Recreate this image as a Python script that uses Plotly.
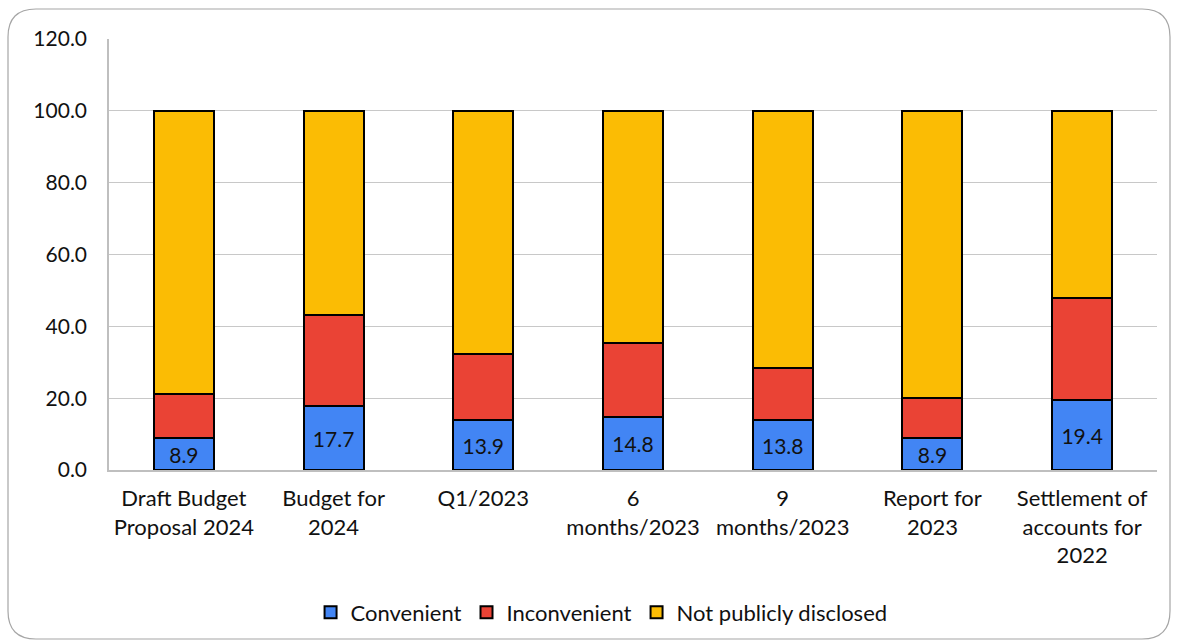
import plotly.graph_objects as go

categories = [
    "Draft Budget<br>Proposal 2024",
    "Budget for<br>2024",
    "Q1/2023",
    "6<br>months/2023",
    "9<br>months/2023",
    "Report for<br>2023",
    "Settlement of<br>accounts for<br>2022",
]
convenient = [8.9, 17.7, 13.9, 14.8, 13.8, 8.9, 19.4]
inconvenient = [12.2, 25.5, 18.5, 20.6, 14.7, 11.2, 28.5]
not_disclosed = [round(100 - c - i, 1) for c, i in zip(convenient, inconvenient)]

FONT = "Lato, 'Open Sans', sans-serif"
W, H = 1179, 644
ML, MR, MT, MB = 109, 22, 39, 174
PW, PH = W - ML - MR, H - MT - MB

fig = go.Figure()
fig.add_bar(
    x=categories, y=convenient, name="Convenient",
    marker=dict(color="#4285f4", line=dict(color="#000000", width=2)),
    text=[f"{v:.1f}" for v in convenient], textposition="inside",
    insidetextanchor="middle", constraintext="none",
    textfont=dict(color="#111111", size=21, family=FONT),
)
fig.add_bar(
    x=categories, y=inconvenient, name="Inconvenient",
    marker=dict(color="#ea4335", line=dict(color="#000000", width=2)),
)
fig.add_bar(
    x=categories, y=not_disclosed, name="Not publicly disclosed",
    marker=dict(color="#fbbc04", line=dict(color="#000000", width=2)),
)

# rounded outer frame in paper coordinates
def px_x(p):
    return (p - ML) / PW

def px_y(p):
    return (H - MB - p) / PH

x0, x1, y0, y1, r = 8, 1170, 9, 639, 28
path = (
    f"M {px_x(x0 + r)},{px_y(y0)} L {px_x(x1 - r)},{px_y(y0)} "
    f"Q {px_x(x1)},{px_y(y0)} {px_x(x1)},{px_y(y0 + r)} "
    f"L {px_x(x1)},{px_y(y1 - r)} "
    f"Q {px_x(x1)},{px_y(y1)} {px_x(x1 - r)},{px_y(y1)} "
    f"L {px_x(x0 + r)},{px_y(y1)} "
    f"Q {px_x(x0)},{px_y(y1)} {px_x(x0)},{px_y(y1 - r)} "
    f"L {px_x(x0)},{px_y(y0 + r)} "
    f"Q {px_x(x0)},{px_y(y0)} {px_x(x0 + r)},{px_y(y0)} Z"
)

fig.update_layout(
    width=W, height=H,
    margin=dict(l=ML, r=MR, t=MT, b=MB, autoexpand=False),
    barmode="stack", bargap=0.6,
    paper_bgcolor="white", plot_bgcolor="white",
    font=dict(family=FONT, size=21, color="#111111"),
    showlegend=True,
    legend=dict(orientation="h", x=0.47, xanchor="center", y=-0.282, yanchor="top",
                font=dict(size=22, family=FONT), traceorder="normal", itemwidth=30,
                bgcolor="rgba(0,0,0,0)"),
    shapes=[dict(type="path", path=path, xref="paper", yref="paper",
                 line=dict(color="#a6a6a6", width=1.2), fillcolor="rgba(0,0,0,0)", layer="below")],
)
fig.update_yaxes(range=[0, 120], dtick=20, tickformat=".1f", showgrid=True,
                 gridcolor="#c8c8c8", gridwidth=1.2, showline=True, linecolor="#bfbfbf",
                 linewidth=1.5, ticks="", ticklabelstandoff=16, zeroline=False,
                 tickfont=dict(size=21), automargin=False)
fig.update_xaxes(showline=True, linecolor="#bfbfbf", linewidth=1.5, ticks="",
                 tickfont=dict(size=22), ticklabelstandoff=8, automargin=False)

fig.write_html("out.html")
